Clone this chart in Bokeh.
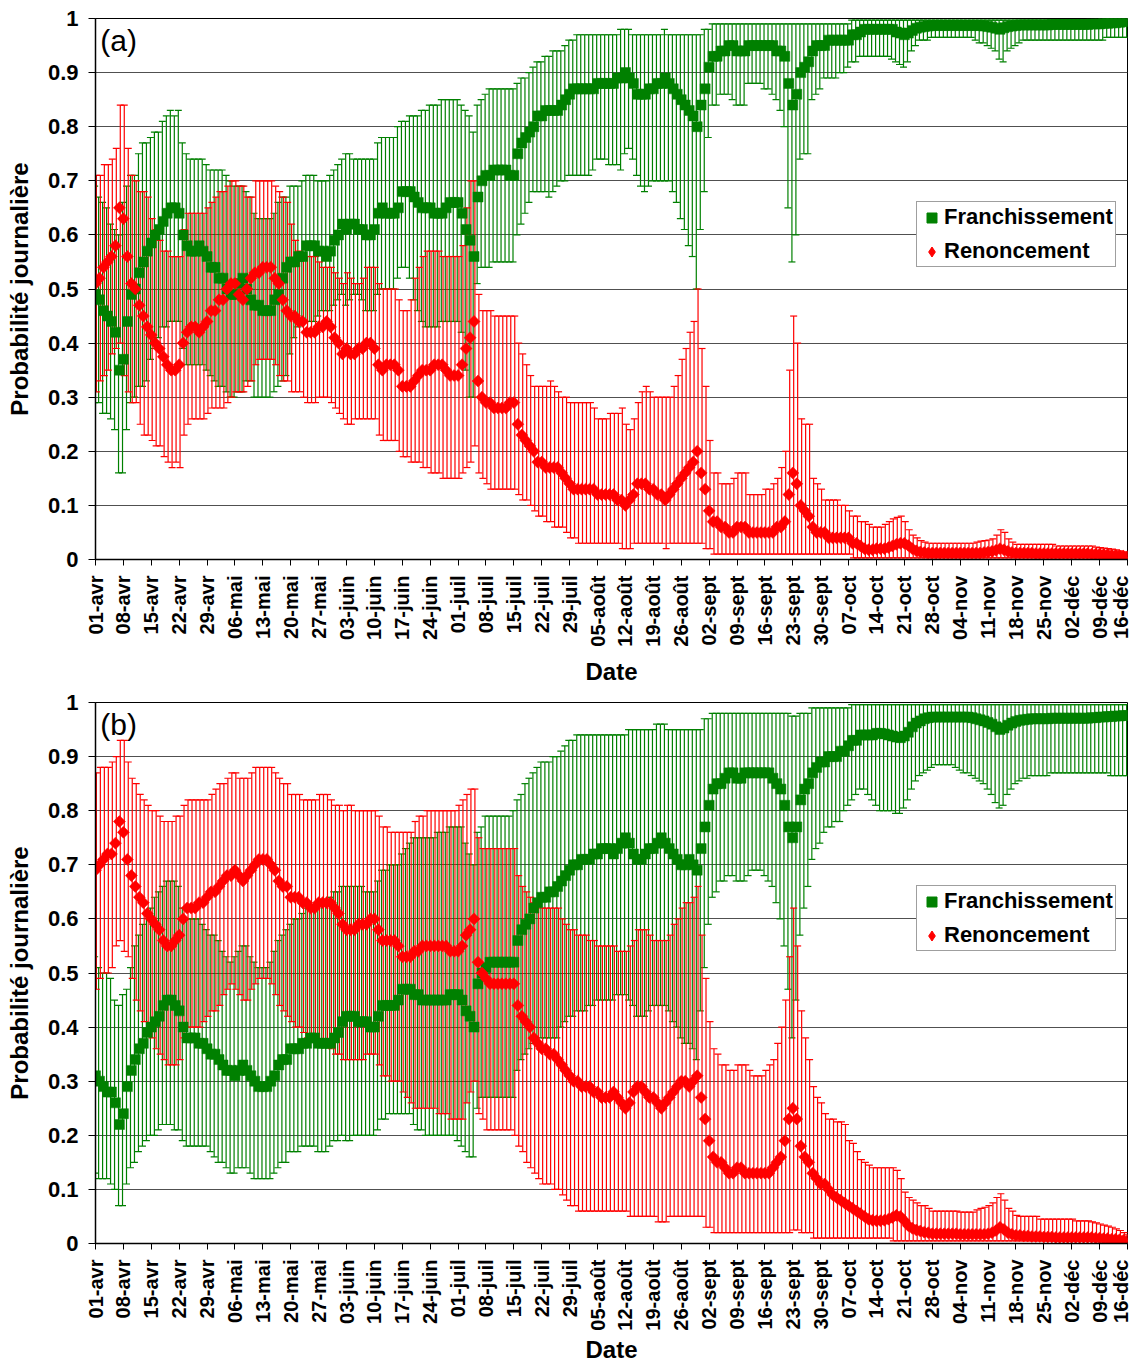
import math
from bokeh.plotting import figure
from bokeh.models import (ColumnDataSource, Range1d, FixedTicker, Whisker, TeeHead,
                          Legend, LegendItem, Label, CustomJSTickFormatter)
from bokeh.layouts import column
from bokeh.transform import dodge
from bokeh.embed import file_html
from bokeh.resources import INLINE

# ---------------- data (percent) ----------------
DAYS = list(range(260))  # 0 = 01-avr ... 259 = 16-dec
TICK_DAYS = list(range(0, 260, 7))
TICK_LABELS = ["01-avr", "08-avr", "15-avr", "22-avr", "29-avr", "06-mai", "13-mai", "20-mai",
               "27-mai", "03-juin", "10-juin", "17-juin", "24-juin", "01-juil", "08-juil",
               "15-juil", "22-juil", "29-juil", "05-août", "12-août", "19-août", "26-août",
               "02-sept", "09-sept", "16-sept", "23-sept", "30-sept", "07-oct", "14-oct",
               "21-oct", "28-oct", "04-nov", "11-nov", "18-nov", "25-nov", "02-déc",
               "09-déc", "16-déc"]
Y_TICKS = [0, 0.1, 0.2, 0.3, 0.4, 0.5, 0.6, 0.7, 0.8, 0.9, 1]
SERIES = ["Franchissement", "Renoncement"]

# Panel (a)
A_F = [
    49, 48, 46, 45, 44, 42, 35, 37, 44, 49,
    50, 53, 55, 57, 58.5, 60, 61, 62.5, 64, 65,
    65, 64, 60, 58, 57, 57, 58, 57, 56, 54,
    54, 52, 52, 50, 49, 49, 51, 52, 50, 48,
    47, 47, 46, 46, 46, 48, 49, 52, 54, 55,
    55, 56, 56, 58, 58, 58, 57, 57, 56, 57,
    59, 60, 62, 61, 62, 62, 61, 61, 60, 60,
    61, 64, 65, 64, 64, 64, 65, 68, 68, 68,
    67, 66, 65, 65, 65, 64, 64, 64, 65, 66,
    66, 66, 64, 61, 59, 56, 67, 70, 71, 71,
    72, 72, 72, 72, 71, 71, 75, 77, 78, 79,
    80, 82, 82, 83, 83, 83, 83, 84, 85, 86,
    87, 87, 87, 87, 87, 87, 88, 88, 88, 88,
    88, 89, 89, 90, 89, 88, 86, 86, 86, 87,
    87, 88, 88, 89, 88, 87, 86, 85, 84, 83,
    82, 80, 84, 87, 91, 93, 93, 94, 94, 95,
    95, 94, 94, 94, 95, 95, 95, 95, 95, 95,
    95, 94, 94, 93, 88, 84, 86, 90, 91, 92,
    94, 95, 95, 95, 96, 96, 96, 96, 96, 96,
    97, 97, 97.5, 98, 98, 98, 98, 98, 98, 98,
    98, 97.5, 97.3, 97, 97.3, 97.8, 98.2, 98.4, 98.5, 98.6,
    98.7, 98.7, 98.7, 98.7, 98.7, 98.7, 98.7, 98.7, 98.7, 98.7,
    98.7, 98.7, 98.7, 98.6, 98.5, 98.4, 98.2, 98.0, 98.3, 98.5,
    98.6, 98.7, 98.8, 98.8, 98.8, 98.8, 98.8, 98.8, 98.8, 98.8,
    98.9, 98.9, 98.9, 98.9, 98.9, 98.9, 98.9, 98.9, 98.9, 98.9,
    99.0, 99.0, 99.0, 99.1, 99.1, 99.2, 99.2, 99.3, 99.4, 99.5,
]
A_F_LO = [
    29, 29, 27, 27, 26, 24, 16, 16, 24, 29,
    30, 32, 32, 33, 37, 39, 41, 43, 43, 44,
    44, 44, 39, 36, 36, 36, 36, 36, 35, 34,
    33, 32, 32, 31, 30, 30, 31, 31, 33, 33,
    30, 30, 30, 30, 30, 31, 32, 33, 34, 38,
    41, 43, 44, 44, 44, 44, 45, 46, 46, 46,
    47, 48, 49, 47, 48, 49, 49, 48, 46, 46,
    46, 49, 50, 50, 50, 50, 52, 54, 54, 52,
    48, 46, 44, 43, 43, 43, 43, 44, 44, 44,
    44, 44, 42, 35, 30, 30, 51, 54, 54, 54,
    55, 55, 55, 55, 55, 55, 60, 62, 64, 66,
    68, 68, 68, 68, 67, 68, 69, 70, 70, 71,
    71, 71, 71, 71, 71, 72, 74, 74, 74, 73,
    73, 73, 72, 75, 76, 74, 71, 69, 68, 69,
    70, 70, 70, 70, 70, 68, 66, 63, 61, 58,
    56, 50, 61, 68, 78, 84, 84, 86, 86, 86,
    85, 84, 84, 84, 88, 88, 88, 88, 87, 87,
    86, 85, 83, 80, 65, 55, 60, 74, 75, 75,
    85, 86, 87, 89, 89, 89, 89, 90, 90, 91,
    92, 92, 93, 93, 93, 93, 93, 93, 93, 93,
    92.5, 92, 91.5, 91, 92, 94, 95, 96, 96, 96,
    96.5, 96.5, 96.5, 96.5, 96.5, 96.5, 96.5, 96.5, 96.5, 96.5,
    96.5, 96, 95.5, 95.5, 95, 94.5, 94, 92.5, 92, 94,
    94.5, 95, 95.5, 96, 96, 96, 96, 96, 96, 96,
    96, 96, 96, 96, 96, 96, 96, 96, 96, 96,
    96, 96, 96, 96, 96.5, 96.5, 96.5, 96.5, 96.5, 96.5,
]
A_F_HI = [
    69, 67, 66, 65, 62, 61, 60, 66, 69, 71,
    71, 75, 77, 77, 78, 79, 79, 81, 82, 83,
    82, 83, 77, 75, 74, 74, 74, 74, 73, 72,
    72, 72, 72, 71, 70, 69, 69, 69, 68, 67,
    64, 63, 63, 63, 63, 64, 66, 67, 67, 69,
    69, 69, 70, 71, 71, 71, 70, 70, 70, 71,
    72, 73, 74, 75, 75, 74, 74, 74, 74, 74,
    74, 77, 78, 78, 78, 78, 80, 81, 81, 82,
    82, 82, 83, 83, 84, 84, 84, 85, 85, 85,
    85, 85, 84, 83, 82, 79, 84, 85, 86, 87,
    87, 87, 87, 87, 87, 87, 88, 89, 89, 90,
    91, 92, 92, 93, 93, 94, 94, 94, 95, 96,
    96, 97, 97, 97, 97, 97, 97, 97, 97, 97,
    97, 97, 98, 98, 98, 97, 97, 97, 97, 97,
    97, 97, 97, 98, 97, 97, 97, 97, 97, 97,
    97, 97, 97, 98, 98, 99, 99, 99, 99, 99,
    99, 99, 99, 99, 99, 99, 99, 99, 99, 99,
    99, 99, 99, 99, 99, 99, 99, 99, 99, 99,
    99, 99, 99, 99, 99, 99, 99, 99, 99, 99,
    99.7, 99.7, 99.7, 99.7, 99.7, 99.7, 99.7, 99.7, 99.7, 99.7,
    99.7, 99.7, 99.7, 99.7, 99.7, 99.7, 99.7, 99.7, 99.7, 99.7,
    99.7, 99.7, 99.7, 99.7, 99.7, 99.7, 99.7, 99.7, 99.7, 99.7,
    99.7, 99.7, 99.7, 99.7, 99.7, 99.7, 99.7, 99.7, 99.7, 99.7,
    99.7, 99.7, 99.7, 99.7, 99.7, 99.7, 99.7, 99.7, 99.7, 99.7,
    99.7, 99.7, 99.7, 99.7, 99.7, 99.7, 99.7, 99.7, 99.7, 99.7,
    99.7, 99.7, 99.7, 99.7, 99.7, 99.7, 99.7, 99.7, 99.7, 99.7,
]
A_R = [
    51, 52, 54, 55, 56, 58, 65, 63, 56, 51,
    50, 47, 45, 43, 41.5, 40, 39, 37.5, 36, 35,
    35, 36, 40, 42, 43, 43, 42, 43, 44, 46,
    46, 48, 48, 50, 51, 51, 49, 48, 50, 52,
    53, 53, 54, 54, 54, 52, 51, 48, 46, 45,
    45, 44, 44, 42, 42, 42, 43, 43, 44, 43,
    41, 40, 38, 39, 38, 38, 39, 39, 40, 40,
    39, 36, 35, 36, 36, 36, 35, 32, 32, 32,
    33, 34, 35, 35, 35, 36, 36, 36, 35, 34,
    34, 34, 36, 39, 41, 44, 33, 30, 29, 29,
    28, 28, 28, 28, 29, 29, 25, 23, 22, 21,
    20, 18, 18, 17, 17, 17, 17, 16, 15, 14,
    13, 13, 13, 13, 13, 13, 12, 12, 12, 12,
    12, 11, 11, 10, 11, 12, 14, 14, 14, 13,
    13, 12, 12, 11, 12, 13, 14, 15, 16, 17,
    18, 20, 16, 13, 9, 7, 7, 6, 6, 5,
    5, 6, 6, 6, 5, 5, 5, 5, 5, 5,
    5, 6, 6, 7, 12, 16, 14, 10, 9, 8,
    6, 5, 5, 5, 4, 4, 4, 4, 4, 4,
    3, 3, 2.5, 2.0, 1.8, 1.8, 2.0, 2.0, 2.0, 2.2,
    2.5, 2.8, 3.0, 3.0, 2.6, 2.0, 1.6, 1.4, 1.3, 1.2,
    1.2, 1.2, 1.2, 1.2, 1.2, 1.2, 1.2, 1.2, 1.2, 1.2,
    1.2, 1.2, 1.2, 1.3, 1.4, 1.5, 1.7, 2.0, 1.8, 1.5,
    1.3, 1.2, 1.2, 1.2, 1.2, 1.2, 1.1, 1.1, 1.1, 1.1,
    1.1, 1.1, 1.1, 1.1, 1.1, 1.1, 1.1, 1.1, 1.1, 1.1,
    1.0, 1.0, 1.0, 0.9, 0.9, 0.8, 0.8, 0.7, 0.6, 0.5,
]
A_R_LO = [
    31, 33, 34, 35, 38, 39, 40, 34, 31, 29,
    29, 25, 23, 23, 22, 21, 21, 19, 18, 17,
    18, 17, 23, 25, 26, 26, 26, 26, 27, 28,
    28, 28, 28, 29, 30, 31, 31, 31, 32, 33,
    36, 37, 37, 37, 37, 36, 34, 33, 33, 31,
    31, 31, 30, 29, 29, 29, 30, 30, 30, 29,
    28, 27, 26, 25, 25, 26, 26, 26, 26, 26,
    26, 23, 22, 22, 22, 22, 20, 19, 19, 18,
    18, 18, 17, 17, 16, 16, 16, 15, 15, 15,
    15, 15, 16, 17, 18, 21, 16, 15, 14, 13,
    13, 13, 13, 13, 13, 13, 12, 11, 11, 10,
    9, 8, 8, 7, 7, 6, 6, 6, 5, 4,
    4, 3, 3, 3, 3, 3, 3, 3, 3, 3,
    3, 3, 2, 2, 2, 3, 3, 3, 3, 3,
    3, 3, 3, 2, 3, 3, 3, 3, 3, 3,
    3, 3, 3, 2, 2, 1, 1, 1, 1, 1,
    1, 1, 1, 1, 1, 1, 1, 1, 1, 1,
    1, 1, 1, 1, 1, 1, 1, 1, 1, 1,
    1, 1, 1, 1, 1, 1, 1, 1, 1, 1,
    0.3, 0.3, 0.3, 0.3, 0.3, 0.3, 0.3, 0.3, 0.3, 0.3,
    0.3, 0.3, 0.3, 0.3, 0.3, 0.3, 0.3, 0.3, 0.3, 0.3,
    0.3, 0.3, 0.3, 0.3, 0.3, 0.3, 0.3, 0.3, 0.3, 0.3,
    0.3, 0.3, 0.3, 0.3, 0.3, 0.3, 0.3, 0.3, 0.3, 0.3,
    0.3, 0.3, 0.3, 0.3, 0.3, 0.3, 0.3, 0.3, 0.3, 0.3,
    0.3, 0.3, 0.3, 0.3, 0.3, 0.3, 0.3, 0.3, 0.3, 0.3,
    0.3, 0.3, 0.3, 0.3, 0.3, 0.3, 0.3, 0.3, 0.3, 0.3,
]
A_R_HI = [
    71, 71, 73, 73, 74, 76, 84, 84, 76, 71,
    70, 68, 68, 67, 63, 61, 59, 57, 57, 56,
    56, 56, 61, 64, 64, 64, 64, 64, 65, 66,
    67, 68, 68, 69, 70, 70, 69, 69, 67, 67,
    70, 70, 70, 70, 70, 69, 68, 67, 66, 62,
    59, 57, 56, 56, 56, 56, 55, 54, 54, 54,
    53, 52, 51, 53, 52, 51, 51, 52, 54, 54,
    54, 51, 50, 50, 50, 50, 48, 46, 46, 48,
    52, 54, 56, 57, 57, 57, 57, 56, 56, 56,
    56, 56, 58, 65, 70, 70, 49, 46, 46, 46,
    45, 45, 45, 45, 45, 45, 40, 38, 36, 34,
    32, 32, 32, 32, 33, 32, 31, 30, 30, 29,
    29, 29, 29, 29, 29, 28, 26, 26, 26, 27,
    27, 27, 28, 25, 24, 26, 29, 31, 32, 31,
    30, 30, 30, 30, 30, 32, 34, 37, 39, 42,
    44, 50, 39, 32, 22, 16, 16, 14, 14, 14,
    15, 16, 16, 16, 12, 12, 12, 12, 13, 13,
    14, 15, 17, 20, 35, 45, 40, 26, 25, 25,
    15, 14, 13, 11, 11, 11, 11, 10, 10, 9,
    8, 8, 7, 7, 6.5, 6, 6, 6, 6.5, 7,
    7.5, 7.8, 8, 7, 5.5, 4.5, 4, 3.5, 3.2, 3,
    3, 3, 3, 3, 3, 3, 3, 3, 3, 3,
    3, 3.2, 3.4, 3.5, 3.6, 3.8, 4.5, 5.5, 5, 3.8,
    3.2, 2.8, 2.8, 2.8, 2.8, 2.8, 2.8, 2.8, 2.8, 2.8,
    2.8, 2.5, 2.5, 2.5, 2.5, 2.5, 2.5, 2.5, 2.5, 2.5,
    2.5, 2.3, 2.2, 2.1, 2.0, 1.9, 1.8, 1.6, 1.4, 1.2,
]

# Panel (b)
B_F = [
    31, 30, 29, 28, 28, 26, 22, 24, 29, 32,
    34, 36, 37, 39, 40, 41, 42, 44, 45, 45,
    44, 43, 40, 38, 38, 38, 37, 37, 36, 35,
    35, 34, 33, 32, 32, 31, 32, 33, 32, 31,
    30, 29, 29, 29, 30, 31, 33, 34, 34, 36,
    36, 36, 37, 37, 38, 38, 37, 37, 37, 37,
    38, 39, 41, 42, 42, 42, 41, 41, 41, 40,
    40, 42, 44, 44, 44, 44, 45, 47, 47, 47,
    46, 46, 45, 45, 45, 45, 45, 45, 45, 46,
    46, 46, 45, 43, 42, 40, 48, 50, 51, 52,
    52, 52, 52, 52, 52, 52, 56, 58, 59, 60,
    62, 63, 64, 64, 65, 65, 66, 67, 68, 69,
    70, 70, 71, 71, 71, 72, 72, 73, 73, 73,
    72, 73, 74, 75, 74, 72, 71, 71, 72, 73,
    73, 74, 75, 74, 73, 72, 71, 70, 70, 71,
    70, 69, 73, 77, 81, 84, 85, 85, 86, 87,
    87, 86, 86, 87, 87, 87, 87, 87, 87, 87,
    86, 85, 84, 81, 77, 75, 77, 82, 84, 85,
    87, 88, 89, 89, 90, 90, 90, 91, 91, 92,
    93, 93, 94, 94, 94, 94, 94.3, 94.3, 94.2, 94.0,
    93.8, 93.6, 93.5, 93.8, 94.5, 95.5, 96.2, 96.6, 97.0, 97.2,
    97.3, 97.3, 97.3, 97.3, 97.3, 97.3, 97.3, 97.3, 97.3, 97.3,
    97.2, 97.0, 96.8, 96.6, 96.3, 96.0, 95.5, 95.0, 95.3, 95.8,
    96.2, 96.5, 96.7, 96.8, 96.9, 97.0, 97.0, 97.0, 97.0, 97.0,
    97.1, 97.1, 97.1, 97.1, 97.1, 97.1, 97.1, 97.1, 97.1, 97.1,
    97.2, 97.2, 97.3, 97.3, 97.4, 97.4, 97.5, 97.5, 97.6, 97.6,
]
B_F_LO = [
    13, 12, 12, 12, 11, 10, 7, 7, 11, 14,
    15, 17, 18, 19, 20, 20, 21, 22, 22, 22,
    21, 21, 19, 18, 18, 18, 18, 18, 18, 17,
    16, 15, 15, 14, 13, 13, 14, 14, 14, 13,
    12, 12, 12, 12, 12, 13, 14, 15, 15, 17,
    17, 17, 18, 18, 18, 18, 17, 17, 17, 18,
    19, 19, 20, 19, 19, 20, 20, 20, 20, 20,
    20, 21, 23, 23, 24, 24, 24, 24, 24, 24,
    22, 21, 21, 20, 20, 20, 20, 20, 20, 20,
    20, 19, 18, 17, 16, 16, 25, 27, 27, 27,
    27, 27, 27, 27, 27, 27, 32, 34, 35, 36,
    37, 37, 38, 38, 38, 38, 38, 40, 41, 42,
    42, 43, 43, 43, 44, 44, 45, 45, 45, 45,
    45, 46, 46, 46, 45, 44, 42, 42, 42, 43,
    44, 44, 44, 44, 43, 41, 40, 38, 37, 37,
    36, 34, 43, 51, 59, 64, 65, 67, 67, 68,
    68, 67, 67, 67, 68, 69, 69, 69, 68, 67,
    66, 63, 60, 55, 47, 38, 45, 57, 62, 66,
    71, 73, 74, 76, 77, 77, 78, 78, 80, 81,
    82, 83, 84, 84, 83, 82, 81, 80, 80, 80,
    80, 79.5, 79.5, 80.5, 82, 84, 85.5, 86.5, 87, 87.5,
    88, 88.5, 88.5, 88.5, 88.5, 88.5, 88, 87.5, 87, 87,
    86.5, 86, 85.5, 85, 84, 83, 81.5, 80.5, 81, 83,
    84, 85, 85.5, 86, 86, 86.5, 86.5, 86.5, 86.5, 86.5,
    87, 87, 87, 87, 87, 87, 87, 87, 87, 87,
    87, 87, 87, 87, 87, 86.5, 86.5, 86.5, 86.5, 86.5,
]
B_F_HI = [
    53, 51, 50, 50, 49, 45, 44, 46, 47, 51,
    55, 57, 59, 61, 62, 64, 65, 66, 67, 67,
    67, 66, 62, 60, 60, 60, 60, 59, 58, 57,
    57, 56, 54, 53, 52, 53, 54, 55, 55, 53,
    52, 51, 51, 51, 52, 54, 56, 57, 58, 59,
    60, 60, 61, 62, 62, 62, 63, 63, 63, 64,
    65, 65, 66, 66, 66, 66, 66, 66, 65, 65,
    65, 67, 69, 69, 70, 70, 70, 72, 73, 74,
    75, 75, 75, 75, 75, 75, 76, 76, 76, 77,
    77, 77, 77, 74, 72, 70, 76, 77, 79, 79,
    79, 79, 79, 79, 79, 80, 82, 83, 85, 86,
    87, 88, 89, 89, 89, 90, 90, 91, 92, 93,
    93, 94, 94, 94, 94, 94, 94, 94, 94, 94,
    94, 94, 94, 94, 95, 95, 95, 95, 95, 95,
    95, 96, 96, 96, 95, 95, 95, 95, 95, 95,
    95, 95, 95, 97, 97, 98, 98, 98, 98, 98,
    98, 98, 98, 98, 98, 98, 98, 98, 98, 98,
    98, 98, 98, 98, 98, 97.5, 97.5, 98, 98, 98,
    99, 99, 99, 99, 99, 99, 99, 99, 99, 99,
    99.6, 99.6, 99.6, 99.6, 99.6, 99.6, 99.6, 99.6, 99.6, 99.6,
    99.6, 99.6, 99.6, 99.6, 99.6, 99.6, 99.6, 99.6, 99.6, 99.6,
    99.6, 99.6, 99.6, 99.6, 99.6, 99.6, 99.6, 99.6, 99.6, 99.6,
    99.6, 99.6, 99.6, 99.6, 99.6, 99.6, 99.6, 99.6, 99.6, 99.6,
    99.6, 99.6, 99.6, 99.6, 99.6, 99.6, 99.6, 99.6, 99.6, 99.6,
    99.6, 99.6, 99.6, 99.6, 99.6, 99.6, 99.6, 99.6, 99.6, 99.6,
    99.6, 99.6, 99.6, 99.6, 99.6, 99.6, 99.6, 99.6, 99.6, 99.6,
]
B_R = [
    69, 70, 71, 72, 72, 74, 78, 76, 71, 68,
    66, 64, 63, 61, 60, 59, 58, 56, 55, 55,
    56, 57, 60, 62, 62, 62, 63, 63, 64, 65,
    65, 66, 67, 68, 68, 69, 68, 67, 68, 69,
    70, 71, 71, 71, 70, 69, 67, 66, 66, 64,
    64, 64, 63, 63, 62, 62, 63, 63, 63, 63,
    62, 61, 59, 58, 58, 58, 59, 59, 59, 60,
    60, 58, 56, 56, 56, 56, 55, 53, 53, 53,
    54, 54, 55, 55, 55, 55, 55, 55, 55, 54,
    54, 54, 55, 57, 58, 60, 52, 50, 49, 48,
    48, 48, 48, 48, 48, 48, 44, 42, 41, 40,
    38, 37, 36, 36, 35, 35, 34, 33, 32, 31,
    30, 30, 29, 29, 29, 28, 28, 27, 27, 27,
    28, 27, 26, 25, 26, 28, 29, 29, 28, 27,
    27, 26, 25, 26, 27, 28, 29, 30, 30, 29,
    30, 31, 27, 23, 19, 16, 15, 15, 14, 13,
    13, 14, 14, 13, 13, 13, 13, 13, 13, 13,
    14, 15, 16, 19, 23, 25, 23, 18, 16, 15,
    13, 12, 11, 11, 10, 9, 8.5, 8, 7.5, 7,
    6.5, 6, 5.5, 5, 4.5, 4.3, 4.2, 4.2, 4.3, 4.5,
    4.8, 5.2, 5.0, 4.2, 3.3, 2.8, 2.5, 2.3, 2.1, 2.0,
    1.8, 1.8, 1.8, 1.8, 1.8, 1.8, 1.8, 1.7, 1.7, 1.7,
    1.7, 1.7, 1.7, 1.7, 1.8, 2.0, 2.4, 3.0, 2.6, 2.0,
    1.7, 1.5, 1.5, 1.4, 1.4, 1.3, 1.3, 1.3, 1.2, 1.2,
    1.2, 1.1, 1.1, 1.1, 1.1, 1.1, 1.1, 1.1, 1.1, 1.1,
    1.1, 1.0, 1.0, 0.9, 0.9, 0.8, 0.8, 0.7, 0.6, 0.5,
]
B_R_LO = [
    47, 49, 50, 50, 51, 55, 56, 54, 53, 49,
    45, 43, 41, 39, 38, 36, 35, 34, 33, 33,
    33, 34, 38, 40, 40, 40, 40, 41, 42, 43,
    43, 44, 46, 47, 48, 47, 46, 45, 45, 47,
    48, 49, 49, 49, 48, 46, 44, 43, 42, 41,
    40, 40, 39, 38, 38, 38, 37, 37, 37, 36,
    35, 35, 34, 34, 34, 34, 34, 34, 35, 35,
    35, 33, 31, 31, 30, 30, 30, 28, 27, 26,
    25, 25, 25, 25, 25, 25, 24, 24, 24, 23,
    23, 23, 23, 26, 28, 30, 24, 23, 21, 21,
    21, 21, 21, 21, 21, 20, 18, 17, 15, 14,
    13, 12, 11, 11, 11, 10, 10, 9, 8, 7,
    7, 6, 6, 6, 6, 6, 6, 6, 6, 6,
    6, 6, 6, 6, 5, 5, 5, 5, 5, 5,
    5, 4, 4, 4, 5, 5, 5, 5, 5, 5,
    5, 5, 5, 3, 3, 2, 2, 2, 2, 2,
    2, 2, 2, 2, 2, 2, 2, 2, 2, 2,
    2, 2, 2, 2, 2, 2.5, 2.5, 2, 2, 2,
    1, 1, 1, 1, 1, 1, 1, 1, 1, 1,
    1, 1, 1, 1, 1, 1, 1, 1, 1, 1,
    0.5, 0.5, 0.5, 0.5, 0.5, 0.5, 0.5, 0.5, 0.5, 0.5,
    0.5, 0.5, 0.5, 0.5, 0.5, 0.5, 0.5, 0.5, 0.5, 0.5,
    0.5, 0.5, 0.5, 0.5, 0.5, 0.5, 0.5, 0.5, 0.5, 0.5,
    0.5, 0.5, 0.5, 0.5, 0.5, 0.5, 0.5, 0.5, 0.5, 0.5,
    0.5, 0.5, 0.5, 0.5, 0.5, 0.5, 0.5, 0.5, 0.5, 0.5,
    0.5, 0.5, 0.5, 0.5, 0.5, 0.5, 0.5, 0.5, 0.5, 0.5,
]
B_R_HI = [
    87, 88, 88, 88, 89, 90, 93, 93, 89, 86,
    85, 83, 82, 81, 80, 80, 79, 78, 78, 78,
    79, 79, 81, 82, 82, 82, 82, 82, 82, 83,
    84, 85, 85, 86, 87, 87, 86, 86, 86, 87,
    88, 88, 88, 88, 88, 87, 86, 85, 85, 83,
    83, 83, 82, 82, 82, 82, 83, 83, 83, 82,
    81, 81, 80, 81, 81, 80, 80, 80, 80, 80,
    80, 79, 77, 77, 76, 76, 76, 76, 76, 76,
    78, 79, 79, 80, 80, 80, 80, 80, 80, 80,
    80, 81, 82, 83, 84, 84, 75, 73, 73, 73,
    73, 73, 73, 73, 73, 73, 68, 66, 65, 64,
    63, 63, 62, 62, 62, 62, 62, 60, 59, 58,
    58, 57, 57, 57, 56, 56, 55, 55, 55, 55,
    55, 54, 54, 54, 55, 56, 58, 58, 58, 57,
    56, 56, 56, 56, 57, 59, 60, 62, 63, 63,
    64, 66, 57, 49, 41, 36, 35, 33, 33, 32,
    32, 33, 33, 33, 32, 31, 31, 31, 32, 33,
    34, 37, 40, 45, 53, 62, 55, 43, 38, 34,
    29, 27, 26, 24, 23, 23, 22.5, 22.5, 22, 19,
    18.5, 17, 15.5, 15, 14.5, 14, 14, 14, 14, 14,
    14, 13.5, 12, 9.5, 8.5, 8, 7.5, 7, 7, 6.5,
    6, 6, 6, 6, 6, 6, 6, 5.8, 5.8, 5.8,
    5.8, 6.2, 6.5, 6.7, 7, 7.5, 8.5, 9.2, 8, 6.5,
    6, 5.2, 5, 5, 5, 5, 5, 4.5, 4.5, 4.5,
    4.5, 4.5, 4.5, 4.5, 4.5, 4.5, 4.2, 4.2, 4.2, 4.2,
    4.0, 3.8, 3.6, 3.4, 3.2, 3.0, 2.7, 2.4, 2.0, 1.6,
]

# ---------------- styling ----------------
GREEN = "#008000"
RED = "#ff0000"
FONT = "Liberation Sans"
NAN = float("nan")


def pct(a):
    return [v / 100.0 for v in a]


def panel(tag, fm, flo, fhi, rm, rlo, rhi, top, bottom, tick_standoff, title_standoff):
    src = ColumnDataSource(dict(day=DAYS, fm=pct(fm), flo=pct(flo), fhi=pct(fhi),
                                rm=pct(rm), rlo=pct(rlo), rhi=pct(rhi)))
    p = figure(frame_width=1032, frame_height=541,
               x_range=Range1d(0, 259), y_range=Range1d(0, 1),
               output_backend="svg", toolbar_location=None,
               min_border_left=95, min_border_right=4, min_border_top=top,
               min_border_bottom=bottom, background_fill_color="white",
               border_fill_color="white")
    p.outline_line_color = "black"
    p.outline_line_width = 1

    # grid
    p.xgrid.visible = False
    p.ygrid.ticker = FixedTicker(ticks=Y_TICKS[1:-1])
    p.ygrid.grid_line_color = "#505050"
    p.ygrid.grid_line_width = 1

    # y axis
    p.yaxis.ticker = FixedTicker(ticks=Y_TICKS)
    p.yaxis.formatter = CustomJSTickFormatter(
        code="if (Math.abs(tick) < 1e-9) return '0'; if (Math.abs(tick-1) < 1e-9) return '1'; return tick.toFixed(1);")
    p.yaxis.axis_label = "Probabilité journalière"
    p.yaxis.minor_tick_line_color = None
    p.yaxis.major_tick_out = 7
    p.yaxis.major_tick_in = 0
    p.yaxis.major_label_standoff = 10
    p.yaxis.axis_label_standoff = 12

    # x axis
    p.xaxis.ticker = FixedTicker(ticks=TICK_DAYS)
    p.xaxis.formatter = CustomJSTickFormatter(
        args=dict(labels=TICK_LABELS),
        code="const i = Math.round(tick / 7); return (i >= 0 && i < labels.length) ? labels[i] : '';")
    p.xaxis.major_label_orientation = math.pi / 2
    p.xaxis.axis_label = "Date"
    p.xaxis.minor_tick_line_color = None
    p.xaxis.major_tick_out = 6
    p.xaxis.major_tick_in = 0
    p.xaxis.major_label_standoff = tick_standoff
    p.xaxis.axis_label_standoff = title_standoff

    for ax in (p.xaxis, p.yaxis):
        ax.axis_line_color = "black"
        ax.axis_line_width = 1.5
        ax.major_tick_line_color = "black"
        ax.major_label_text_font = FONT
        ax.major_label_text_font_style = "bold"
        ax.major_label_text_color = "black"
        ax.axis_label_text_font = FONT
        ax.axis_label_text_font_style = "bold"
        ax.axis_label_text_font_size = "24px"
        ax.axis_label_text_color = "black"
    p.xaxis.major_label_text_font_size = "20px"
    p.yaxis.major_label_text_font_size = "22px"

    # error bars (green series first, red series drawn over it)
    for col_lo, col_hi, color, off in (("flo", "fhi", GREEN, -0.22), ("rlo", "rhi", RED, 0.22)):
        w = Whisker(source=src, base=dodge("day", off), lower=col_lo, upper=col_hi,
                    dimension="height", line_color=color, line_width=1.2,
                    lower_head=TeeHead(size=7, line_color=color, line_width=1.2),
                    upper_head=TeeHead(size=7, line_color=color, line_width=1.2))
        p.add_layout(w)

    p.scatter("day", "fm", source=src, marker="square", size=10,
              fill_color=GREEN, line_color=GREEN, line_width=0.5)
    p.scatter("day", "rm", source=src, marker="square", angle=math.pi / 4, size=8.5,
              fill_color=RED, line_color=RED, line_width=0.5)

    # legend-only renderers (a single undefined point, nothing drawn on the plot)
    leg_src = ColumnDataSource(dict(x=[NAN], y=[NAN]))
    g_leg = p.scatter("x", "y", source=leg_src, marker="square", size=10,
                      fill_color=GREEN, line_color=GREEN)
    r_leg = p.scatter("x", "y", source=leg_src, marker="diamond", size=12,
                      fill_color=RED, line_color=RED)

    legend = Legend(items=[LegendItem(label=SERIES[0], renderers=[g_leg]),
                           LegendItem(label=SERIES[1], renderers=[r_leg])],
                    location=(821, 292))
    legend.label_text_font = FONT
    legend.label_text_font_style = "bold"
    legend.label_text_font_size = "22px"
    legend.label_text_color = "black"
    legend.glyph_width = 25
    legend.glyph_height = 25
    legend.label_standoff = 0
    legend.label_height = 24
    legend.padding = 2
    legend.spacing = 8
    legend.margin = 0
    legend.border_line_color = "#404040"
    legend.border_line_width = 1
    legend.background_fill_color = "white"
    legend.background_fill_alpha = 1
    p.add_layout(legend)

    p.add_layout(Label(x=1.2, y=0.99, text=tag, text_font=FONT, text_font_size="30px",
                       text_baseline="top", text_align="left", text_color="black"))
    return p


pa = panel("(a)", A_F, A_F_LO, A_F_HI, A_R, A_R_LO, A_R_HI, top=18, bottom=128,
           tick_standoff=10, title_standoff=8)
pb = panel("(b)", B_F, B_F_LO, B_F_HI, B_R, B_R_LO, B_R_HI, top=15, bottom=118,
           tick_standoff=10, title_standoff=2)

layout = column(pa, pb, spacing=0)
open("out.html", "w").write(file_html(layout, INLINE))
